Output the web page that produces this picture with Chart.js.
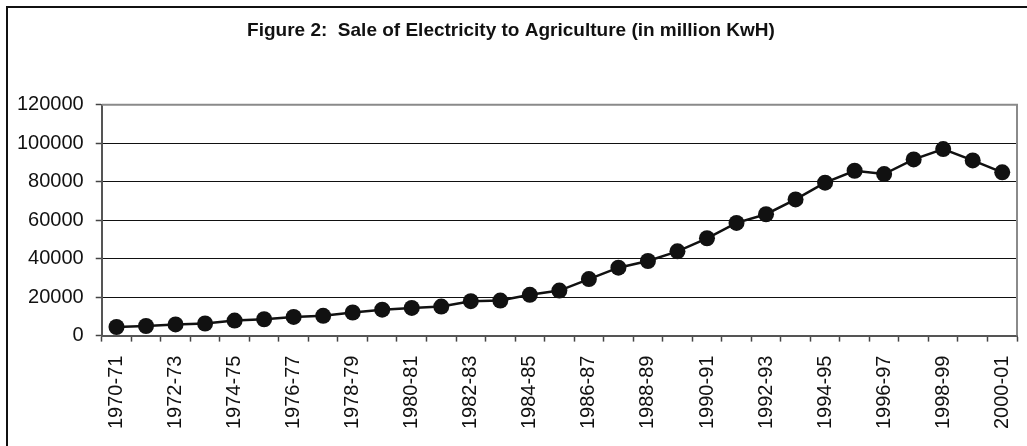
<!DOCTYPE html>
<html>
<head>
<meta charset="utf-8">
<script src="https://cdn.jsdelivr.net/npm/chart.js@4"></script>
<style>
  body { margin: 0; background: #fff; }
  #frame { position: absolute; left: 6px; top: 6px; width: 1100px; height: 500px; border: 2px solid #111; }
  #wrap { position: absolute; left: 0; top: 0; width: 1027px; height: 446px; }
</style>
</head>
<body>
<div id="frame"></div>
<div id="wrap"><canvas id="ventas"></canvas></div>
<script>
const anios = ['1970-71', '1971-72', '1972-73', '1973-74', '1974-75', '1975-76', '1976-77', '1977-78',
  '1978-79', '1979-80', '1980-81', '1981-82', '1982-83', '1983-84', '1984-85', '1985-86', '1986-87',
  '1987-88', '1988-89', '1989-90', '1990-91', '1991-92', '1992-93', '1993-94', '1994-95', '1995-96',
  '1996-97', '1997-98', '1998-99', '1999-00', '2000-01'];
const ventas = [4470, 5000, 5800, 6300, 7800, 8500, 9700, 10300, 12000, 13500, 14400, 15100, 17900,
  18200, 21200, 23400, 29400, 35300, 38800, 43800, 50600, 58600, 63100, 70800, 79500, 85700,
  84000, 91600, 97000, 91100, 84900];
const ticksY = [0, 20000, 40000, 60000, 80000, 100000, 120000];

const ctx = document.getElementById('ventas');

// marco gris arriba y a la derecha del area del grafico
const marco = {
  id: 'marco',
  afterDraw(chart) {
    const a = chart.chartArea;
    const c = chart.ctx;
    c.save();
    c.strokeStyle = '#8a8a8a';
    c.lineWidth = 2;
    c.beginPath();
    c.moveTo(a.left, a.top);
    c.lineTo(a.right, a.top);
    c.lineTo(a.right, a.bottom);
    c.stroke();
    c.restore();
  }
};

const grafico = new Chart(ctx, {
  type: 'line',
  data: {
    labels: anios,
    datasets: [{
      label: 'Sale of Electricity to Agriculture',
      data: ventas,
      borderColor: '#111',
      backgroundColor: '#111',
      borderWidth: 2.5,
      pointRadius: 8,
      pointHoverRadius: 8,
      pointBackgroundColor: '#111',
      pointBorderWidth: 0,
      tension: 0
    }]
  },
  options: {
    responsive: true,
    maintainAspectRatio: false,
    animation: false,
    layout: { padding: { left: 5, right: 10, top: 0, bottom: 3 } },
    plugins: {
      legend: { display: false },
      tooltip: { enabled: false },
      title: {
        display: true,
        text: 'Figure 2:  Sale of Electricity to Agriculture (in million KwH)',
        color: '#111',
        font: { family: 'Liberation Sans', size: 19, weight: 'bold' },
        padding: { top: 19, bottom: 63 }
      }
    },
    scales: {
      x: {
        offset: true,
        afterFit: function (s) { s.paddingRight = 0; },
        grid: { offset: true, drawOnChartArea: false, drawTicks: true, tickLength: 6, tickColor: '#444', tickWidth: 1.5 },
        border: { display: true, color: '#555', width: 2 },
        ticks: {
          autoSkip: false,
          maxRotation: 90,
          minRotation: 90,
          padding: 14,
          color: '#111',
          font: { family: 'Liberation Sans', size: 20 },
          callback: function (v, i) { return i % 2 === 0 ? anios[i] : ''; }
        }
      },
      y: {
        min: 0,
        max: 120000,
        afterBuildTicks: function (s) { s.ticks = ticksY.map(v => ({ value: v })); },
        grid: { color: '#111', lineWidth: 1, tickLength: 6, tickColor: '#444', tickWidth: 1.5 },
        border: { display: true, color: '#555', width: 2 },
        ticks: {
          padding: 12,
          color: '#111',
          font: { family: 'Liberation Sans', size: 20 },
          callback: function (v) { return String(v); }
        }
      }
    }
  },
  plugins: [marco]
});
</script>
</body>
</html>
